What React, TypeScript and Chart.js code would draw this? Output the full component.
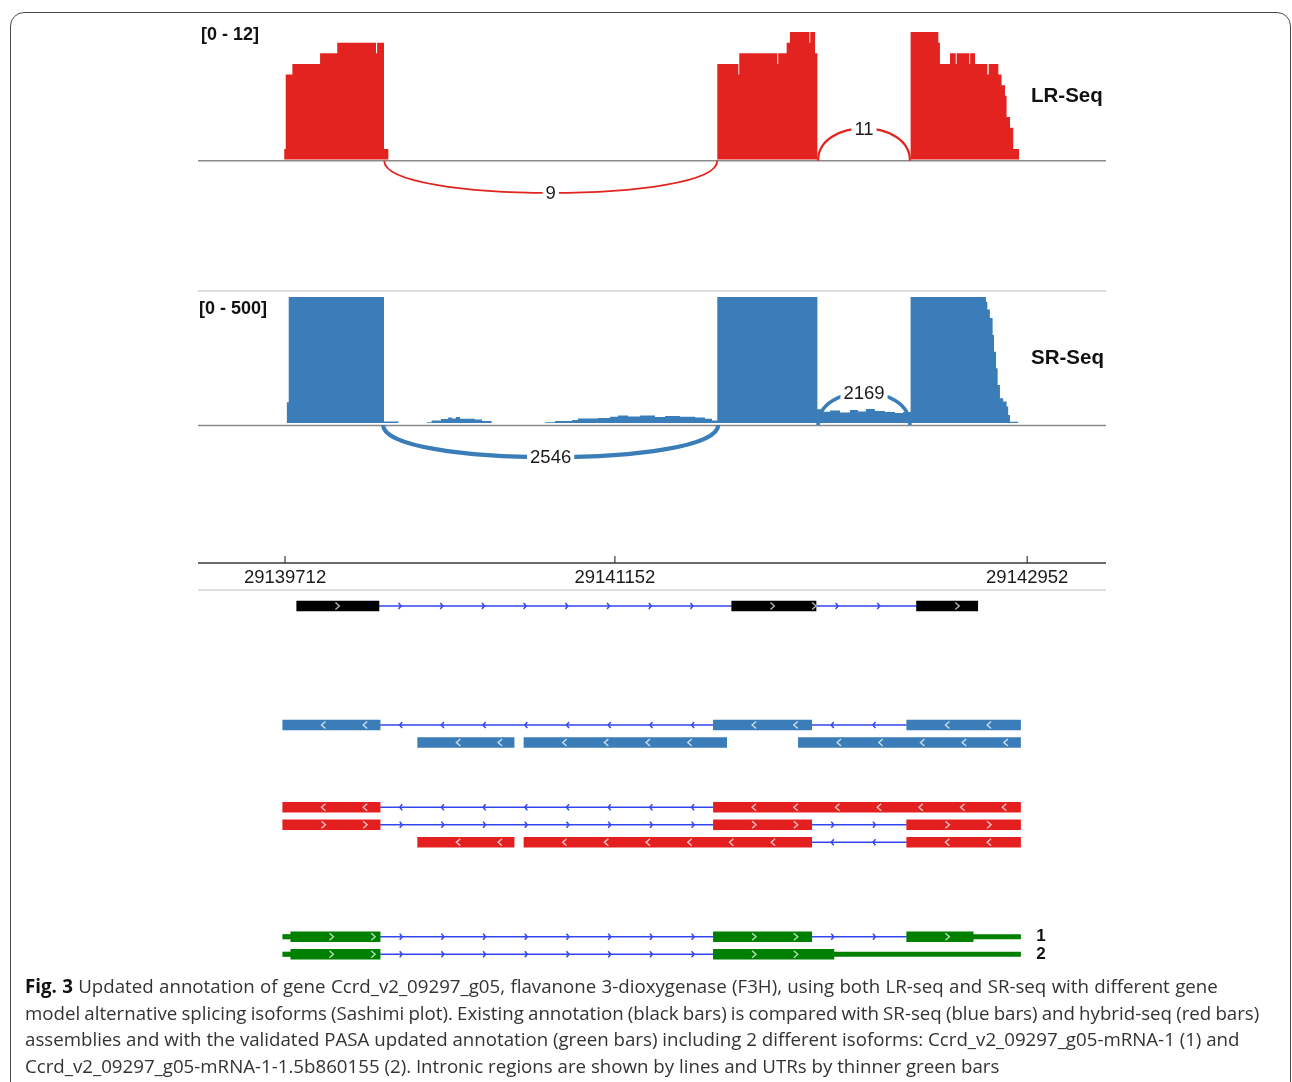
import React, { useEffect, useRef } from "react";
import { Chart, registerables } from "chart.js";

Chart.register(...registerables);

// ------------------------------------------------------------------ data
const VIEW_START = 29139332;
const VIEW_END = 29143296;
const RULER_TICKS = [29139712, 29141152, 29142952];

// LR-seq coverage: depth holds from each position to the next one
const LR_LABEL = "LR-Seq";
const LR_RANGE_MAX = 12;
const LR_POS = [
  29139708, 29139715, 29139744, 29139865, 29139940, 29140109, 29140114, 29140144, 29140163,
  29141599, 29141691, 29141695, 29141861, 29141865, 29141902, 29141916, 29142001, 29142005, 29142026, 29142036,
  29142443, 29142564, 29142571, 29142615, 29142640, 29142644, 29142699, 29142703, 29142724, 29142778,
  29142784, 29142826, 29142840, 29142855, 29142862, 29142877, 29142891, 29142917,
];
const LR_DEPTH = [
  1, 8, 9, 10, 11, 10, 11, 1, 0,
  9, 8, 10, 9, 10, 11, 12, 11, 12, 10, 0,
  12, 11, 9, 10, 9, 10, 9, 10, 9, 8,
  9, 8, 7, 6, 4, 3, 1, 0,
];
const LR_JUNC_START = [29140145, 29142039];
const LR_JUNC_END = [29141599, 29142440];
const LR_JUNC_READS = [9, 11];

// SR-seq coverage (display range clipped at 500)
const SR_LABEL = "SR-Seq";
const SR_RANGE_MAX = 500;
const SR_POS = [
  29139719, 29139728, 29140144, 29140207,
  29140331, 29140352, 29140393, 29140424, 29140441, 29140458, 29140476, 29140541, 29140572, 29140614,
  29140847, 29140891, 29140965, 29140991, 29141078, 29141131, 29141166, 29141209, 29141262, 29141327,
  29141371, 29141436, 29141502, 29141545, 29141576,
  29141599,
  29142036, 29142052, 29142091, 29142135, 29142178, 29142213, 29142248, 29142287, 29142331, 29142375, 29142410,
  29142443, 29142772, 29142778, 29142789, 29142801, 29142807, 29142816, 29142823, 29142833, 29142847,
  29142862, 29142869, 29142877, 29142913,
];
const SR_DEPTH = [
  82, 500, 6, 0,
  3, 10, 16, 22, 18, 24, 17, 14, 8, 0,
  3, 8, 12, 18, 20, 25, 30, 26, 30, 24,
  28, 25, 22, 17, 10,
  500,
  55, 45, 50, 42, 52, 46, 56, 48, 44, 40, 44,
  500, 481, 450, 417, 349, 283, 217, 151, 98, 85,
  65, 32, 5, 0,
];
const SR_JUNC_START = [29140140, 29142039];
const SR_JUNC_END = [29141603, 29142440];
const SR_JUNC_READS = [2546, 2169];

// Gene models: each track is a list of transcripts, each transcript a list of [start, end] exons
const EXISTING_ANNOTATION = [
  [[29139763, 29140122], [29141662, 29142030], [29142469, 29142736]],
];
const SR_ASSEMBLY_1 = [
  [[29139702, 29140127], [29141582, 29142011], [29142426, 29142923]],
];
const SR_ASSEMBLY_2 = [
  [[29140291, 29140712]],
  [[29140755, 29141640]],
  [[29141953, 29142923]],
];
const HYBRID_1 = [[[29139702, 29140127], [29141582, 29142923]]];
const HYBRID_2 = [
  [[29139702, 29140127], [29141582, 29142011], [29142426, 29142923]],
];
const HYBRID_3 = [
  [[29140291, 29140712]],
  [[29140755, 29142011], [29142426, 29142923]],
];
const PASA_1_EXONS = [[29139702, 29140127], [29141582, 29142011], [29142426, 29142923]];
const PASA_1_CDS = [29139737, 29142716];
const PASA_2_EXONS = [[29139702, 29140127], [29141582, 29142923]];
const PASA_2_CDS = [29139737, 29142108];

// ------------------------------------------------------------------ layout / style
const CANVAS_W = 1292;
const CANVAS_H = 980;
const PLOT_LEFT = 198;
const PLOT_RIGHT = 1106;
const LR_ZERO_PX = 159.5;
const LR_TOP_PX = 32;
const SR_ZERO_PX = 423;
const SR_TOP_PX = 297;
const GENE_ROW0_PX = 606;
const GENE_ROW_PITCH = 17.5;
const RULER_Y = 563;
const SR_SEPARATOR_Y = 291;
const RULER_SEPARATOR_Y = 590;

const LR_COLOR = "#e32320";
const SR_COLOR = "#3a7db9";
const INTRON_COLOR = "#3447ef";
const GREEN = "#008000";
const FONT = '"Liberation Sans", Arial, sans-serif';

const ARC_SIDE = [1, -1]; // 1 = below baseline, -1 = above
const ARC_DEPTH = 43;
const CHEVRON_STEP = 41.7;

function linearRange(v0: number, p0: number, v1: number, p1: number, reverse = false) {
  const f = (p: number) => (reverse ? p / CANVAS_H : (CANVAS_H - p) / CANVAS_H);
  const f0 = f(p0);
  const f1 = f(p1);
  const span = (v1 - v0) / (f1 - f0);
  const min = v0 - f0 * span;
  return { min, max: min + span };
}

type Transcript = { exons: number[][]; cds?: number[] };
const GENE_TRACKS = [
  { transcripts: EXISTING_ANNOTATION.map((e) => ({ exons: e })), strand: 1, fill: "#000000", chev: "rgba(190,190,190,0.95)", slot: 0 },
  { transcripts: SR_ASSEMBLY_1.map((e) => ({ exons: e })), strand: -1, fill: SR_COLOR, chev: "rgba(255,255,255,0.75)", slot: 6.8 },
  { transcripts: SR_ASSEMBLY_2.map((e) => ({ exons: e })), strand: -1, fill: SR_COLOR, chev: "rgba(255,255,255,0.75)", slot: 7.8 },
  { transcripts: HYBRID_1.map((e) => ({ exons: e })), strand: -1, fill: "#e41f1f", chev: "rgba(255,225,225,0.85)", slot: 11.5 },
  { transcripts: HYBRID_2.map((e) => ({ exons: e })), strand: 1, fill: "#e41f1f", chev: "rgba(255,225,225,0.85)", slot: 12.5 },
  { transcripts: HYBRID_3.map((e) => ({ exons: e })), strand: -1, fill: "#e41f1f", chev: "rgba(255,225,225,0.85)", slot: 13.5 },
  { transcripts: [{ exons: PASA_1_EXONS, cds: PASA_1_CDS }], strand: 1, fill: GREEN, chev: "rgba(210,240,210,0.85)", slot: 18.9, label: "1" },
  { transcripts: [{ exons: PASA_2_EXONS, cds: PASA_2_CDS }], strand: 1, fill: GREEN, chev: "rgba(210,240,210,0.85)", slot: 19.9, label: "2" },
];

function segments(transcripts: Transcript[]) {
  const thick: number[][] = [];
  const thin: number[][] = [];
  const introns: number[][] = [];
  transcripts.forEach((tr) => {
    const cs = tr.cds ? tr.cds[0] : -Infinity;
    const ce = tr.cds ? tr.cds[1] : Infinity;
    tr.exons.forEach(([s, e], i) => {
      const ts = Math.max(s, cs);
      const te = Math.min(e, ce);
      if (te > ts) thick.push([ts, te]);
      if (s < cs) thin.push([s, Math.min(e, cs)]);
      if (e > ce) thin.push([Math.max(s, ce), e]);
      if (i > 0) introns.push([tr.exons[i - 1][1], s]);
    });
  });
  return { thick, thin, introns };
}

function hline(ctx: CanvasRenderingContext2D, x0: number, x1: number, y: number, color: string, w: number) {
  ctx.beginPath();
  ctx.strokeStyle = color;
  ctx.lineWidth = w;
  ctx.moveTo(x0, y);
  ctx.lineTo(x1, y);
  ctx.stroke();
}

function chevron(ctx: CanvasRenderingContext2D, cx: number, cy: number, dir: number, halfH: number, w: number) {
  ctx.beginPath();
  ctx.moveTo(cx - (dir * w) / 2, cy - halfH);
  ctx.lineTo(cx + (dir * w) / 2, cy);
  ctx.lineTo(cx - (dir * w) / 2, cy + halfH);
  ctx.stroke();
}

const sashimiPlugin = {
  id: "sashimi",
  beforeDatasetsDraw(chart: any) {
    const { ctx, chartArea, scales } = chart;
    ctx.save();
    hline(ctx, chartArea.left, chartArea.right, SR_SEPARATOR_Y, "#dedede", 2);
    hline(ctx, chartArea.left, chartArea.right, scales.yLR.getPixelForValue(0) + 1.2, "#8a8a8a", 1.6);
    hline(ctx, chartArea.left, chartArea.right, scales.ySR.getPixelForValue(0) + 2.5, "#8a8a8a", 1.6);
    hline(ctx, chartArea.left, chartArea.right, RULER_SEPARATOR_Y, "#dedede", 2);
    // ruler
    hline(ctx, chartArea.left, chartArea.right, RULER_Y, "#3a3a3a", 1.5);
    ctx.font = `18.5px ${FONT}`;
    ctx.fillStyle = "#1a1a1a";
    ctx.textAlign = "center";
    ctx.textBaseline = "middle";
    RULER_TICKS.forEach((t) => {
      const px = scales.x.getPixelForValue(t);
      ctx.beginPath();
      ctx.strokeStyle = "#3a3a3a";
      ctx.lineWidth = 1.2;
      ctx.moveTo(px, RULER_Y);
      ctx.lineTo(px, RULER_Y - 7);
      ctx.stroke();
      ctx.fillText(String(t), px, RULER_Y + 15);
    });
    ctx.restore();
  },
  afterDatasetsDraw(chart: any) {
    const { ctx, chartArea, scales } = chart;
    const xs = scales.x;
    ctx.save();
    // chevrons on exons and introns
    chart.data.datasets.forEach((ds: any) => {
      if (!ds.chev) return;
      const { dir, color, kind, slot } = ds.chev;
      const cy = scales.yGene.getPixelForValue(slot);
      ctx.strokeStyle = color;
      if (kind === "exon") {
        ctx.lineWidth = 1.4;
        ds.data.forEach((d: any) => {
          const a = xs.getPixelForValue(d.x[0]);
          const b = xs.getPixelForValue(d.x[1]);
          for (let c = a + CHEVRON_STEP; c <= b - 0.5; c += CHEVRON_STEP) chevron(ctx, c - 1, cy, dir, 3.6, 4);
        });
      } else {
        ctx.lineWidth = 1.5;
        for (let i = 0; i + 1 < ds.data.length; i += 3) {
          const a = xs.getPixelForValue(ds.data[i].x);
          const b = xs.getPixelForValue(ds.data[i + 1].x);
          for (let c = a + CHEVRON_STEP / 2; c <= b - 5; c += CHEVRON_STEP) chevron(ctx, c, cy, dir, 3, 2.5);
        }
      }
    });

    // junction arcs
    const arcTracks = [
      { scale: scales.yLR, starts: LR_JUNC_START, ends: LR_JUNC_END, reads: LR_JUNC_READS, color: LR_COLOR, maxW: 2.2, off: 1.2 },
      { scale: scales.ySR, starts: SR_JUNC_START, ends: SR_JUNC_END, reads: SR_JUNC_READS, color: SR_COLOR, maxW: 4.2, off: 2 },
    ];
    arcTracks.forEach((t) => {
      const maxReads = Math.max(...t.reads);
      const y0 = t.scale.getPixelForValue(0) + t.off;
      t.starts.forEach((s, i) => {
        const x1 = xs.getPixelForValue(s);
        const x2 = xs.getPixelForValue(t.ends[i]);
        const side = ARC_SIDE[i];
        const yc = y0 + side * ARC_DEPTH;
        ctx.beginPath();
        ctx.strokeStyle = t.color;
        ctx.lineWidth = (t.maxW * t.reads[i]) / maxReads;
        ctx.moveTo(x1, y0);
        ctx.bezierCurveTo(x1, yc, x2, yc, x2, y0);
        ctx.stroke();
        const lx = (x1 + x2) / 2;
        const ly = y0 + side * ARC_DEPTH * 0.75;
        ctx.font = `18.5px ${FONT}`;
        const tw = ctx.measureText(String(t.reads[i])).width;
        ctx.fillStyle = "#ffffff";
        ctx.fillRect(lx - tw / 2 - 3, ly - 9, tw + 6, 18);
        ctx.fillStyle = "#1a1a1a";
        ctx.textAlign = "center";
        ctx.textBaseline = "middle";
        ctx.fillText(String(t.reads[i]), lx, ly + 1);
      });
    });

    // track labels
    ctx.fillStyle = "#111111";
    ctx.textAlign = "left";
    ctx.textBaseline = "middle";
    ctx.font = `bold 18px ${FONT}`;
    ctx.fillText(`[0 - ${LR_RANGE_MAX}]`, chartArea.left + 3, scales.yLR.getPixelForValue(LR_RANGE_MAX) + 3);
    ctx.fillText(`[0 - ${SR_RANGE_MAX}]`, chartArea.left + 1, scales.ySR.getPixelForValue(SR_RANGE_MAX) + 12);
    ctx.font = `bold 20.5px ${FONT}`;
    ctx.fillText(LR_LABEL, chartArea.right - 75, 96);
    ctx.fillText(SR_LABEL, chartArea.right - 75, 358);
    ctx.font = `bold 17px ${FONT}`;
    ctx.textAlign = "center";
    GENE_TRACKS.forEach((g: any) => {
      if (g.label) ctx.fillText(g.label, chartArea.right - 65, scales.yGene.getPixelForValue(g.slot));
    });
    ctx.restore();
  },
};

function buildDatasets() {
  const ds: any[] = [
    {
      type: "line",
      label: LR_LABEL,
      xAxisID: "x",
      yAxisID: "yLR",
      data: LR_POS.map((p, i) => ({ x: p, y: LR_DEPTH[i] })),
      stepped: "before",
      fill: "origin",
      backgroundColor: LR_COLOR,
      borderColor: "transparent",
      borderWidth: 1,
      pointRadius: 0,
      order: 5,
    },
    {
      type: "line",
      label: SR_LABEL,
      xAxisID: "x",
      yAxisID: "ySR",
      data: SR_POS.map((p, i) => ({ x: p, y: SR_DEPTH[i] })),
      stepped: "before",
      fill: "origin",
      backgroundColor: SR_COLOR,
      borderColor: "transparent",
      borderWidth: 1,
      pointRadius: 0,
      order: 5,
    },
  ];
  GENE_TRACKS.forEach((g) => {
    const { thick, thin, introns } = segments(g.transcripts as Transcript[]);
    ds.push({
      type: "bar",
      indexAxis: "y",
      xAxisID: "x",
      yAxisID: "yGene",
      data: thick.map(([s, e]) => ({ x: [s, e], y: g.slot })),
      backgroundColor: g.fill,
      borderWidth: 0,
      barThickness: 10,
      grouped: false,
      order: 1,
      chev: { dir: g.strand, color: g.chev, kind: "exon", slot: g.slot },
    });
    if (thin.length) {
      ds.push({
        type: "bar",
        indexAxis: "y",
        xAxisID: "x",
        yAxisID: "yGene",
        data: thin.map(([s, e]) => ({ x: [s, e], y: g.slot })),
        backgroundColor: g.fill,
        borderWidth: 0,
        barThickness: 4.5,
        grouped: false,
        order: 1,
      });
    }
    if (introns.length) {
      const pts: any[] = [];
      introns.forEach(([s, e]) => {
        pts.push({ x: s, y: g.slot }, { x: e, y: g.slot }, { x: e, y: null });
      });
      ds.push({
        type: "line",
        xAxisID: "x",
        yAxisID: "yGene",
        data: pts,
        borderColor: INTRON_COLOR,
        borderWidth: 1.6,
        pointRadius: 0,
        fill: false,
        spanGaps: false,
        order: 2,
        chev: { dir: g.strand, color: INTRON_COLOR, kind: "intron", slot: g.slot },
      });
    }
  });
  return ds;
}

const hidden = { display: false, offset: false, beginAtZero: false, grace: 0, grid: { offset: false } };

export default function App() {
  const ref = useRef<HTMLCanvasElement | null>(null);
  useEffect(() => {
    if (!ref.current) return;
    const chart = new Chart(ref.current, {
      type: "line",
      data: { datasets: buildDatasets() },
      options: {
        animation: false,
        responsive: false,
        maintainAspectRatio: false,
        devicePixelRatio: 1,
        events: [],
        layout: { padding: { left: PLOT_LEFT, right: CANVAS_W - PLOT_RIGHT, top: 0, bottom: 0 } },
        plugins: { legend: { display: false }, tooltip: { enabled: false }, title: { display: false } },
        scales: {
          x: { type: "linear", min: VIEW_START, max: VIEW_END, ...hidden },
          yLR: { type: "linear", axis: "y", ...linearRange(0, LR_ZERO_PX, LR_RANGE_MAX, LR_TOP_PX), ...hidden },
          ySR: { type: "linear", axis: "y", ...linearRange(0, SR_ZERO_PX, SR_RANGE_MAX, SR_TOP_PX), ...hidden },
          yGene: { type: "linear", axis: "y", reverse: true, ...linearRange(0, GENE_ROW0_PX, 1, GENE_ROW0_PX + GENE_ROW_PITCH, true), ...hidden },
        } as any,
      } as any,
      plugins: [sashimiPlugin as any],
    });
    return () => chart.destroy();
  }, []);

  const captionLine: React.CSSProperties = { whiteSpace: "nowrap", height: 26.5, lineHeight: "26.5px" };
  return (
    <div style={{ position: "absolute", left: 0, top: 0, width: 1292, height: 1082, overflow: "hidden", background: "#fff" }}>
      <div
        style={{
          position: "absolute",
          left: 10,
          top: 12,
          width: 1281,
          height: 1100,
          boxSizing: "border-box",
          border: "1.5px solid #4a4a4a",
          borderRadius: 14,
        }}
      />
      <canvas ref={ref} width={CANVAS_W} height={CANVAS_H} style={{ position: "absolute", left: 0, top: 0, width: CANVAS_W, height: CANVAS_H }} />
      <div
        style={{
          position: "absolute",
          left: 25,
          top: 973,
          fontFamily: '"Open Sans", sans-serif',
          fontSize: 18.7,
          color: "#333",
        }}
      >
        <div style={{ ...captionLine, wordSpacing: 0.5 }}>
          <b style={{ color: "#111" }}>Fig. 3</b> Updated annotation of gene Ccrd_v2_09297_g05, flavanone 3-dioxygenase (F3H), using both LR-seq and SR-seq with different gene
        </div>
        <div style={{ ...captionLine, wordSpacing: -0.7 }}>
          model alternative splicing isoforms (Sashimi plot). Existing annotation (black bars) is compared with SR-seq (blue bars) and hybrid-seq (red bars)
        </div>
        <div style={captionLine}>
          assemblies and with the validated PASA updated annotation (green bars) including 2 different isoforms: Ccrd_v2_09297_g05-mRNA-1 (1) and
        </div>
        <div style={captionLine}>
          Ccrd_v2_09297_g05-mRNA-1-1.5b860155 (2). Intronic regions are shown by lines and UTRs by thinner green bars
        </div>
      </div>
    </div>
  );
}
